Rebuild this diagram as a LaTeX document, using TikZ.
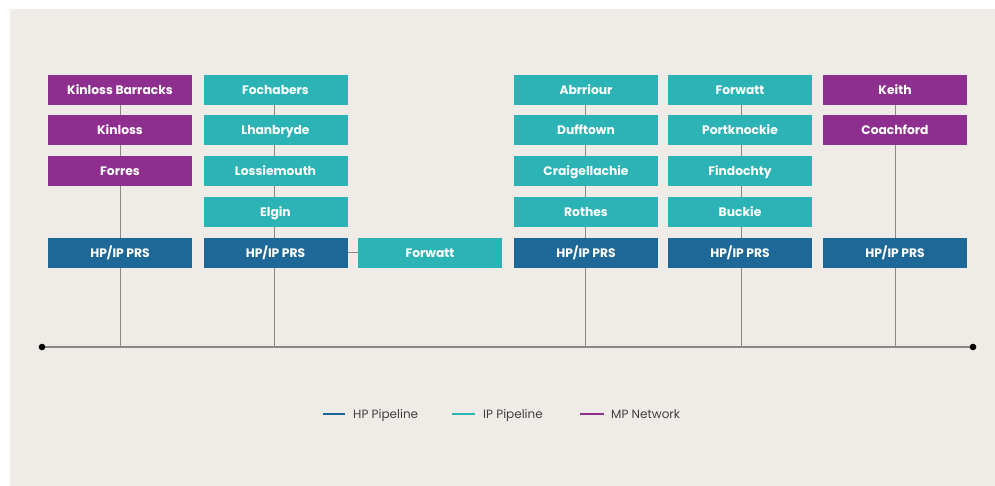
\documentclass[tikz,border=0pt]{standalone}
\usepackage{fontspec}
\setmainfont{Poppins}
\begin{document}
\begin{tikzpicture}[x=1pt,y=-1pt,
  box/.style={minimum width=144pt,minimum height=30pt,inner sep=0pt,text height=8.6pt,text depth=0pt,text=white,font=\fontsize{12.3}{14}\selectfont\bfseries},
  mp/.style={box,fill=mpcol},
  ip/.style={box,fill=ipcol},
  hp/.style={box,fill=hpcol},
  stem/.style={draw=linegray,line width=1pt},
  legline/.style={line width=2.5pt},
  legtext/.style={anchor=west,inner sep=0pt,text height=8.4pt,text depth=0pt,font=\fontsize{12}{13}\selectfont,text=black!75}]
\definecolor{mpcol}{HTML}{8E2E8F}
\definecolor{ipcol}{HTML}{2BB3B6}
\definecolor{hpcol}{HTML}{1E6898}
\definecolor{panel}{HTML}{EFEBE7}
\definecolor{linegray}{HTML}{8A8784}
\useasboundingbox (0,0) rectangle (995,486);
\fill[white] (0,0) rectangle (995,486);
\fill[panel] (10,9) rectangle (995,486);
% coordinates for stems
\coordinate (t1) at (120,347);
\coordinate (t2) at (274,347);
\coordinate (t4) at (585,347);
\coordinate (t5) at (741,347);
\coordinate (t6) at (895,347);
\coordinate (tl) at (42,347);
\coordinate (tr) at (973,347);
\coordinate (s1) at (120,90);
\coordinate (s2) at (274,90);
\coordinate (s4) at (585,90);
\coordinate (s5) at (741,90);
\coordinate (s6) at (895,90);
\draw[stem] (s1) -- (t1);
\draw[stem] (s2) -- (t2);
\draw[stem] (s4) -- (t4);
\draw[stem] (s5) -- (t5);
\draw[stem] (s6) -- (t6);
\draw[draw=linegray,line width=1.6pt] (tl) -- (tr);
\fill[black] (tl) circle (3.3);
\fill[black] (tr) circle (3.3);
% column 1
\node[mp] (kb) at (120,90) {Kinloss Barracks};
\node[mp] (ki) at (120,130) {Kinloss};
\node[mp] (fo) at (120,171) {Forres};
\node[hp] (p1) at (120,253) {HP/IP PRS};
% column 2
\node[ip] (fc) at (275.5,90) {Fochabers};
\node[ip] (lh) at (275.5,130) {Lhanbryde};
\node[ip] (lo) at (275.5,171) {Lossiemouth};
\node[ip] (el) at (275.5,212) {Elgin};
\node[hp] (p2) at (275.5,253) {HP/IP PRS};
% middle
\node[ip] (fw) at (430,253) {Forwatt};
\draw[stem] (p2.east) -- (fw.west);
% column 4
\node[ip] (ab) at (586,90) {Abrriour};
\node[ip] (du) at (586,130) {Dufftown};
\node[ip] (cr) at (586,171) {Craigellachie};
\node[ip] (ro) at (586,212) {Rothes};
\node[hp] (p4) at (586,253) {HP/IP PRS};
% column 5
\node[ip] (fw2) at (740,90) {Forwatt};
\node[ip] (pk) at (740,130) {Portknockie};
\node[ip] (fi) at (740,171) {Findochty};
\node[ip] (bu) at (740,212) {Buckie};
\node[hp] (p5) at (740,253) {HP/IP PRS};
% column 6
\node[mp] (ke) at (895,90) {Keith};
\node[mp] (co) at (895,130) {Coachford};
\node[hp] (p6) at (895,253) {HP/IP PRS};
% legend
\coordinate (l1a) at (323,414); \coordinate (l1b) at (345,414);
\coordinate (l2a) at (452,414); \coordinate (l2b) at (475,414);
\coordinate (l3a) at (580,414); \coordinate (l3b) at (604,414);
\draw[legline,hpcol] (l1a) -- (l1b);
\draw[legline,ipcol] (l2a) -- (l2b);
\draw[legline,mpcol] (l3a) -- (l3b);
\node[legtext] (lt1) at (353,414) {HP Pipeline};
\node[legtext] (lt2) at (483,414) {IP Pipeline};
\node[legtext] (lt3) at (611,414) {MP Network};
\end{tikzpicture}
\end{document}
